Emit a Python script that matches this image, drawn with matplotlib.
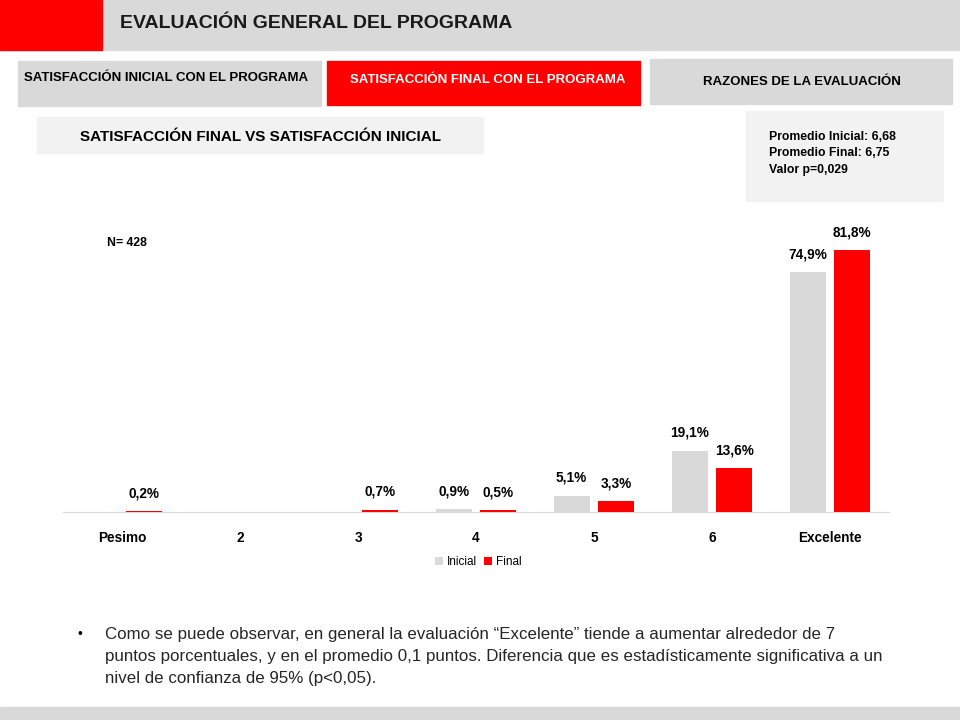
import matplotlib
matplotlib.use('Agg')
import matplotlib.pyplot as plt
from matplotlib.patches import Rectangle
import numpy as np

plt.rcParams['font.family'] = ['Liberation Sans Narrow', 'Liberation Sans', 'DejaVu Sans']

categories = ['Pesimo', '2', '3', '4', '5', '6', 'Excelente']
inicial = [0.0, 0.0, 0.0, 0.9, 5.1, 19.1, 74.9]
final = [0.2, 0.0, 0.7, 0.5, 3.3, 13.6, 81.8]
inicial_labels = ['', '', '', '0,9%', '5,1%', '19,1%', '74,9%']
final_labels = ['0,2%', '', '0,7%', '0,5%', '3,3%', '13,6%', '81,8%']

RED = '#ff0000'
GRAY = '#d9d9d9'
LIGHT = '#f2f2f2'

W, H = 960, 720
fig = plt.figure(figsize=(9.6, 7.2), dpi=100)


def box(x0, y0, x1, y1, color):
    fig.patches.append(Rectangle((x0 / W, 1 - y1 / H), (x1 - x0) / W, (y1 - y0) / H,
                                 transform=fig.transFigure, color=color, zorder=0))


def txt(x, y, s, **kw):
    fig.text(x / W, 1 - y / H, s, va='center', **kw)


# header
box(0, 0, 960, 50, GRAY)
box(0, 0, 102, 50, RED)
txt(120, 24, 'EVALUACIÓN GENERAL DEL PROGRAMA', fontsize=14, fontweight='bold', color='#1a1a1a')

# tabs
box(18, 61, 321, 106, GRAY)
txt(24, 78, 'SATISFACCIÓN INICIAL CON EL PROGRAMA', fontsize=9.5, fontweight='bold')
box(327, 61, 640, 105, RED)
txt(488, 80, 'SATISFACCIÓN FINAL CON EL PROGRAMA', fontsize=9.5, fontweight='bold',
    color='white', ha='center')
box(650, 59, 952, 104, GRAY)
txt(802, 82, 'RAZONES DE LA EVALUACIÓN', fontsize=9.5, fontweight='bold', ha='center')

box(37, 117, 483, 153, LIGHT)
txt(260, 137, 'SATISFACCIÓN FINAL VS SATISFACCIÓN INICIAL', fontsize=11, fontweight='bold',
    ha='center')

box(746, 111, 943, 201, LIGHT)
txt(769, 137, 'Promedio Inicial: 6,68', fontsize=8.8, fontweight='bold')
txt(769, 153, 'Promedio Final: 6,75', fontsize=8.8, fontweight='bold')
txt(769, 170, 'Valor p=0,029', fontsize=8.8, fontweight='bold')

txt(107, 243, 'N= 428', fontsize=8.8, fontweight='bold')

# chart
ax = fig.add_axes([63 / W, 1 - 512 / H, (889 - 63) / W, (512 - 224) / H])
x = np.arange(len(categories))
w = 0.305
off = 0.19
b1 = ax.bar(x - off, inicial, w, color=GRAY, label='Inicial', zorder=3)
b2 = ax.bar(x + off, final, w, color=RED, label='Final', zorder=3)
for bars, labels in ((b1, inicial_labels), (b2, final_labels)):
    for rect, lab in zip(bars, labels):
        if lab:
            ax.annotate(lab, (rect.get_x() + rect.get_width() / 2, rect.get_height()),
                        xytext=(0, 10), textcoords='offset points', ha='center',
                        fontsize=9.8, fontweight='bold')

ax.set_xlim(-0.5, len(categories) - 0.5)
ax.set_ylim(0, 90)
ax.set_yticks([])
ax.set_xticks(x)
ax.set_xticklabels(categories, fontsize=9.8, fontweight='bold')
ax.tick_params(axis='x', length=0, pad=14)
for s in ['top', 'right', 'left']:
    ax.spines[s].set_visible(False)
ax.spines['bottom'].set_color(GRAY)
ax.spines['bottom'].set_zorder(1)
ax.patch.set_alpha(0)

ax.legend(loc='center', bbox_to_anchor=(478 / W, 1 - 562 / H), bbox_transform=fig.transFigure,
          ncol=2, frameon=False, fontsize=8.5, handlelength=0.7, handleheight=0.7,
          handletextpad=0.3, columnspacing=0.6)

# comment
txt(77, 634, '•', fontsize=10)
lines = ['Como se puede observar, en general la evaluación “Excelente” tiende a aumentar alrededor de 7',
         'puntos porcentuales, y en el promedio 0,1 puntos. Diferencia que es estadísticamente significativa a un',
         'nivel de confianza de 95% (p<0,05).']
for i, line in enumerate(lines):
    txt(105, 634 + i * 22.5, line, fontsize=12.2, color='#262626')

box(0, 707, 960, 720, GRAY)

plt.savefig('out.png', dpi=100)
